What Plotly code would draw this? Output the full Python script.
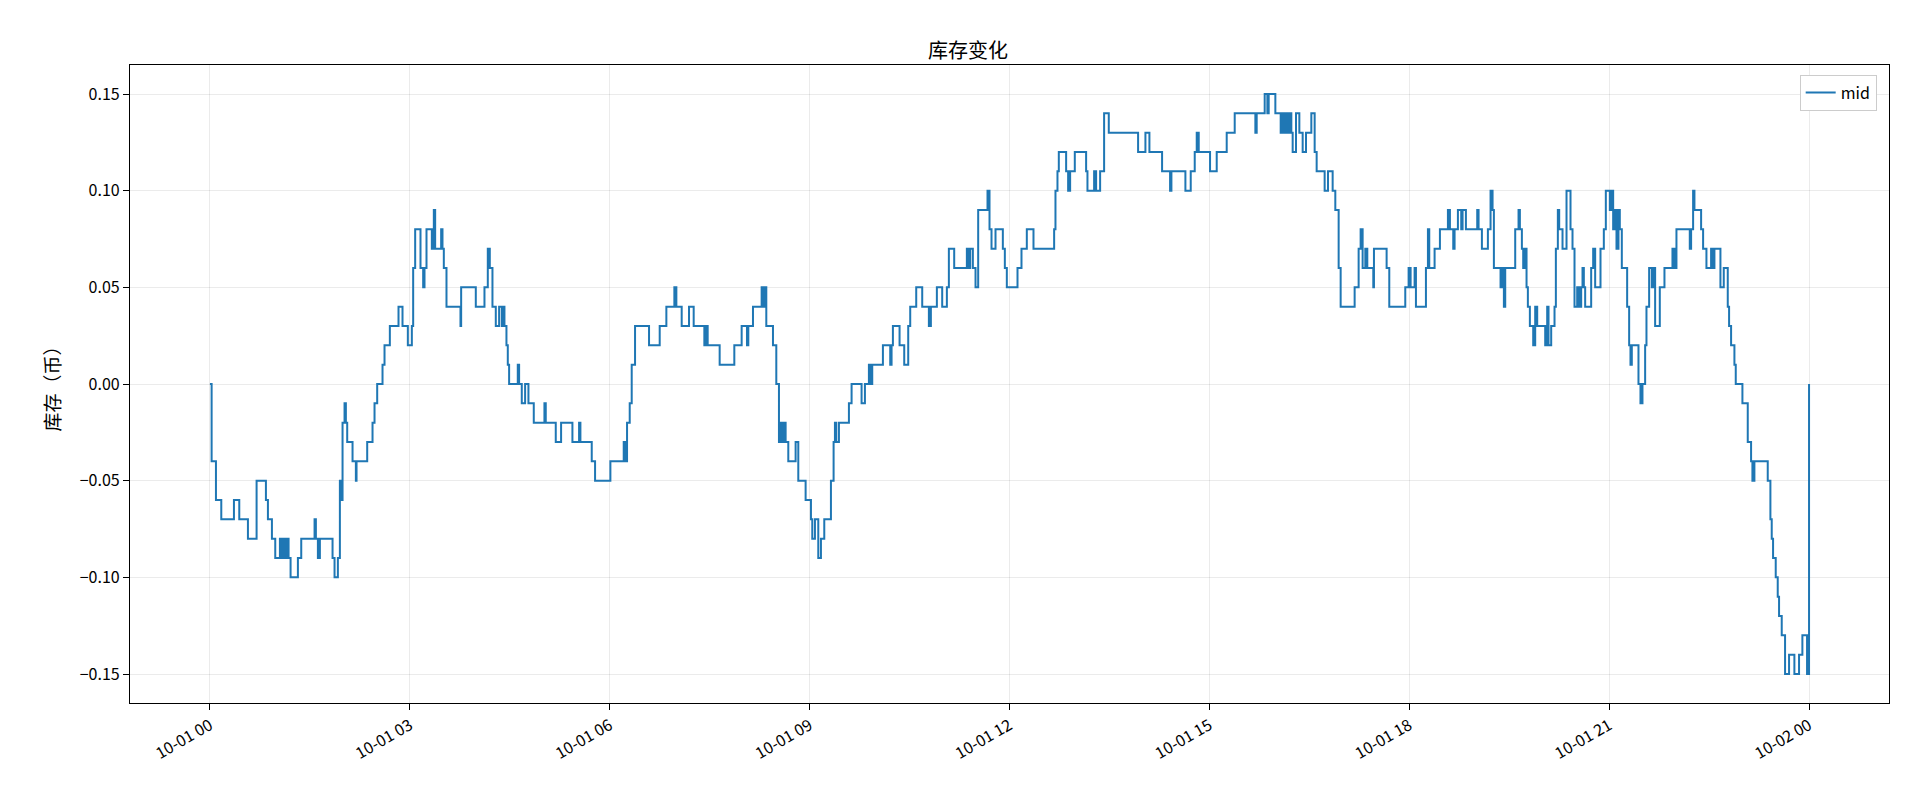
import plotly.graph_objects as go
import pandas as pd

# hours since 2024-10-01 00:00 and inventory value at each change
hours = [
    0.0, 0.025, 0.09, 0.17, 0.36, 0.44, 0.57, 0.70, 0.84, 0.87, 0.93, 0.98,
    1.05, 1.07, 1.10, 1.12, 1.15, 1.18, 1.21, 1.32, 1.37, 1.57, 1.59, 1.62, 1.65,
    1.84, 1.87, 1.92, 1.95, 1.97, 1.99, 2.02, 2.04, 2.06, 2.08, 2.14, 2.19, 2.20,
    2.36, 2.44, 2.47, 2.51, 2.59, 2.62, 2.70, 2.83, 2.89, 2.97, 3.03, 3.05, 3.08,
    3.16, 3.20, 3.22, 3.25, 3.33, 3.36, 3.38, 3.47, 3.49, 3.51, 3.55, 3.76, 3.77,
    3.99, 4.12, 4.17, 4.20, 4.24, 4.29, 4.34, 4.38, 4.40, 4.42, 4.45, 4.47, 4.49,
    4.62, 4.64, 4.68, 4.73, 4.78, 4.86, 5.02, 5.04, 5.19, 5.27, 5.44, 5.54, 5.56,
    5.73, 5.78, 6.01, 6.21, 6.23, 6.26, 6.30, 6.33, 6.38, 6.59, 6.75, 6.85, 6.97,
    7.00, 7.08, 7.19, 7.26, 7.42, 7.44, 7.47, 7.50, 7.65, 7.87, 7.98, 8.06, 8.08,
    8.15, 8.28, 8.30, 8.32, 8.35, 8.45, 8.50, 8.54, 8.56, 8.58, 8.61, 8.64, 8.68,
    8.79, 8.83, 8.94, 9.02, 9.04, 9.08, 9.13, 9.17, 9.22, 9.32, 9.36, 9.38, 9.40,
    9.44, 9.59, 9.63, 9.78, 9.83, 9.89, 9.92, 9.94, 10.10, 10.21, 10.23, 10.25,
    10.35, 10.42, 10.48, 10.51, 10.60, 10.69, 10.79, 10.82, 10.91, 10.99, 11.06,
    11.09, 11.17, 11.36, 11.39, 11.41, 11.45, 11.49, 11.53, 11.67, 11.70, 11.73,
    11.79, 11.90, 11.93, 11.96, 12.12, 12.18, 12.26, 12.36, 12.67, 12.69, 12.72,
    12.74, 12.85, 12.88, 12.91, 12.98, 13.15, 13.17, 13.27, 13.30, 13.36, 13.42,
    13.49, 13.93, 14.04, 14.10, 14.29, 14.41, 14.43, 14.64, 14.72, 14.78, 14.81,
    14.84, 15.01, 15.11, 15.26, 15.38, 15.69, 15.71, 15.83, 15.87, 15.89, 15.99,
    16.07, 16.09, 16.12, 16.15, 16.17, 16.20, 16.23, 16.25, 16.30, 16.35, 16.40,
    16.45, 16.53, 16.58, 16.61, 16.73, 16.78, 16.85, 16.89, 16.94, 16.97, 17.18,
    17.24, 17.27, 17.30, 17.34, 17.37, 17.46, 17.47, 17.66, 17.70, 17.94, 17.99,
    18.02, 18.08, 18.10, 18.25, 18.28, 18.30, 18.38, 18.46, 18.58, 18.61, 18.66,
    18.68, 18.73, 18.78, 18.80, 18.85, 19.02, 19.04, 19.09, 19.18, 19.22, 19.25,
    19.27, 19.37, 19.39, 19.42, 19.44, 19.46, 19.59, 19.64, 19.66, 19.69, 19.71,
    19.73, 19.76, 19.78, 19.81, 19.86, 19.89, 19.92, 20.04, 20.07, 20.09, 20.13,
    20.18, 20.20, 20.23, 20.25, 20.30, 20.36, 20.42, 20.45, 20.48, 20.52, 20.55,
    20.58, 20.60, 20.62, 20.64, 20.73, 20.76, 20.79, 20.87, 20.92, 20.95, 21.01,
    21.04, 21.06, 21.09, 21.11, 21.14, 21.16, 21.19, 21.27, 21.30, 21.32, 21.34,
    21.44, 21.47, 21.50, 21.54, 21.56, 21.60, 21.64, 21.66, 21.69, 21.76, 21.83,
    21.95, 21.98, 22.01, 22.21, 22.23, 22.26, 22.28, 22.38, 22.41, 22.46, 22.53,
    22.56, 22.58, 22.67, 22.72, 22.78, 22.80, 22.83, 22.88, 22.90, 23.00, 23.08,
    23.13, 23.15, 23.18, 23.38, 23.42, 23.44, 23.46, 23.50, 23.53, 23.55, 23.59,
    23.64, 23.70, 23.78, 23.85, 23.90, 23.97, 24.0,
]
values = [
    0.00, -0.04, -0.06, -0.07, -0.06, -0.07, -0.08, -0.05, -0.06, -0.07, -0.08, -0.09,
    -0.08, -0.09, -0.08, -0.09, -0.08, -0.09, -0.10, -0.09, -0.08, -0.07, -0.08, -0.09, -0.08,
    -0.09, -0.10, -0.09, -0.05, -0.06, -0.02, -0.01, -0.02, -0.03, -0.03, -0.04, -0.05, -0.04,
    -0.03, -0.02, -0.01, 0.00, 0.01, 0.02, 0.03, 0.04, 0.03, 0.02, 0.03, 0.06, 0.08,
    0.06, 0.05, 0.06, 0.08, 0.07, 0.09, 0.07, 0.08, 0.07, 0.06, 0.04, 0.03, 0.05,
    0.04, 0.05, 0.07, 0.06, 0.04, 0.03, 0.04, 0.03, 0.04, 0.03, 0.02, 0.01, 0.00,
    0.01, 0.00, -0.01, 0.00, -0.01, -0.02, -0.01, -0.02, -0.03, -0.02, -0.03, -0.02, -0.03,
    -0.04, -0.05, -0.04, -0.03, -0.04, -0.02, -0.01, 0.01, 0.03, 0.02, 0.03, 0.04, 0.05,
    0.04, 0.03, 0.04, 0.03, 0.02, 0.03, 0.02, 0.02, 0.01, 0.02, 0.03, 0.02, 0.03,
    0.04, 0.05, 0.04, 0.05, 0.03, 0.02, 0.00, -0.03, -0.02, -0.03, -0.02, -0.03, -0.04,
    -0.03, -0.05, -0.06, -0.07, -0.08, -0.07, -0.09, -0.08, -0.07, -0.05, -0.03, -0.02, -0.03,
    -0.02, -0.01, 0.00, -0.01, 0.00, 0.01, 0.00, 0.01, 0.02, 0.01, 0.02, 0.03,
    0.02, 0.01, 0.03, 0.04, 0.05, 0.04, 0.03, 0.04, 0.05, 0.04, 0.05,
    0.07, 0.06, 0.07, 0.06, 0.07, 0.06, 0.05, 0.09, 0.10, 0.08, 0.07,
    0.08, 0.07, 0.06, 0.05, 0.06, 0.07, 0.08, 0.07, 0.08, 0.10, 0.11,
    0.12, 0.11, 0.10, 0.11, 0.12, 0.11, 0.10, 0.11, 0.10, 0.11, 0.14,
    0.13, 0.12, 0.13, 0.12, 0.11, 0.10, 0.11, 0.10, 0.11, 0.12, 0.13,
    0.12, 0.11, 0.12, 0.13, 0.14, 0.13, 0.14, 0.15, 0.14, 0.15, 0.14,
    0.13, 0.14, 0.13, 0.14, 0.13, 0.14, 0.13, 0.12, 0.14, 0.13, 0.12,
    0.13, 0.14, 0.12, 0.11, 0.10, 0.11, 0.10, 0.09, 0.06, 0.04, 0.05,
    0.07, 0.08, 0.06, 0.07, 0.06, 0.05, 0.07, 0.06, 0.04, 0.05, 0.06,
    0.05, 0.06, 0.04, 0.06, 0.08, 0.06, 0.07, 0.08, 0.09, 0.08, 0.07,
    0.08, 0.09, 0.08, 0.09, 0.08, 0.09, 0.08, 0.07, 0.08, 0.10, 0.09,
    0.06, 0.05, 0.06, 0.04, 0.06, 0.06, 0.08, 0.09, 0.08, 0.07, 0.06,
    0.07, 0.05, 0.04, 0.03, 0.02, 0.04, 0.03, 0.02, 0.04, 0.02, 0.03,
    0.04, 0.07, 0.09, 0.08, 0.07, 0.10, 0.08, 0.07, 0.04, 0.05, 0.04,
    0.05, 0.06, 0.05, 0.04, 0.06, 0.07, 0.05, 0.07, 0.08, 0.10, 0.09,
    0.10, 0.08, 0.09, 0.07, 0.09, 0.08, 0.06, 0.04, 0.02, 0.01, 0.02,
    0.00, -0.01, 0.00, 0.02, 0.04, 0.06, 0.05, 0.06, 0.03, 0.05, 0.06,
    0.07, 0.06, 0.08, 0.07, 0.08, 0.10, 0.09, 0.08, 0.07, 0.06, 0.07,
    0.06, 0.07, 0.05, 0.06, 0.04, 0.03, 0.02, 0.01, 0.00, -0.01, -0.03,
    -0.04, -0.05, -0.04, -0.05, -0.07, -0.08, -0.09, -0.10, -0.11, -0.12, -0.13,
    -0.15, -0.14, -0.15, -0.14, -0.13, -0.15, 0.00,
]

start = pd.Timestamp("2024-10-01 00:00")
times = [start + pd.Timedelta(hours=h) for h in hours]
tick_vals = [start + pd.Timedelta(hours=3 * i) for i in range(9)]
y_ticks = [-0.15, -0.10, -0.05, 0.00, 0.05, 0.10, 0.15]

font = "Noto Sans CJK SC, Noto Sans, DejaVu Sans"

fig = go.Figure()
fig.add_trace(go.Scatter(
    x=times, y=values, mode="lines", name="mid",
    line=dict(color="#1f77b4", width=2, shape="hv"),
))

fig.update_layout(
    width=1920, height=800,
    paper_bgcolor="white", plot_bgcolor="white",
    font=dict(family=font, size=16, color="black"),
    title=dict(text="库存变化", x=0.5, xanchor="center", y=0.955, font=dict(size=20)),
    margin=dict(l=122, r=39, t=57, b=105),
    showlegend=True,
    legend=dict(x=0.993, y=0.985, xanchor="right", yanchor="top",
                bgcolor="white", bordercolor="#cccccc", borderwidth=1,
                font=dict(size=16)),
)
fig.update_xaxes(
    range=[start - pd.Timedelta(hours=1.2), start + pd.Timedelta(hours=25.2)],
    tickvals=tick_vals, tickformat="%m-%d %H", tickangle=-30,
    showgrid=True, gridcolor="rgba(0,0,0,0.08)",
    showline=True, linecolor="black", linewidth=1.2, mirror=True,
    ticks="outside", ticklen=6, tickcolor="black",
)
fig.update_yaxes(
    range=[-0.165, 0.165], tickvals=y_ticks, tickformat=".2f",
    title=dict(text="库存（币）", standoff=14),
    showgrid=True, gridcolor="rgba(0,0,0,0.08)", zeroline=False,
    showline=True, linecolor="black", linewidth=1.2, mirror=True,
    ticks="outside", ticklen=6, tickcolor="black",
)

fig.write_html("out.html")
